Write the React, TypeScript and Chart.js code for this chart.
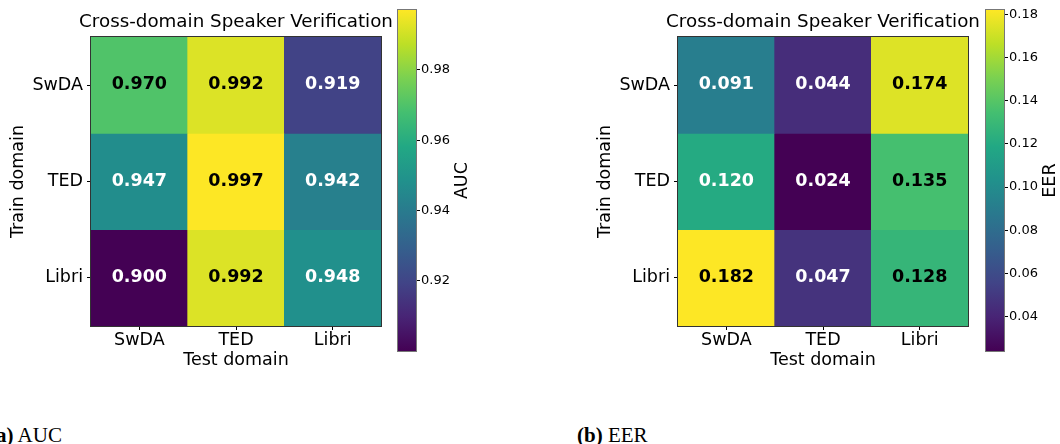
import React, { useEffect, useRef } from 'react';
import { Chart, registerables } from 'chart.js';

Chart.register(...registerables);

// ---------- data ----------
const testDomains = ['SwDA', 'TED', 'Libri'];
const trainDomains = ['SwDA', 'TED', 'Libri'];

const aucSwDA = [0.970, 0.992, 0.919];
const aucTED = [0.947, 0.997, 0.942];
const aucLibri = [0.900, 0.992, 0.948];

const eerSwDA = [0.091, 0.044, 0.174];
const eerTED = [0.120, 0.024, 0.135];
const eerLibri = [0.182, 0.047, 0.128];

const aucTicks = [0.92, 0.94, 0.96, 0.98];
const eerTicks = [0.04, 0.06, 0.08, 0.10, 0.12, 0.14, 0.16, 0.18];

const chartTitle = 'Cross-domain Speaker Verification';
const xTitle = 'Test domain';
const yTitle = 'Train domain';

// ---------- colormap ----------
const VIRIDIS = ['#440154', '#482475', '#414487', '#355f8d', '#2a788e', '#21918c', '#22a884', '#44bf70', '#7ad151', '#bddf26', '#fde725'];

function hexToRgb(h: string) {
  return [parseInt(h.slice(1, 3), 16), parseInt(h.slice(3, 5), 16), parseInt(h.slice(5, 7), 16)];
}

function viridis(t: number) {
  const c = Math.max(0, Math.min(1, t));
  const pos = c * (VIRIDIS.length - 1);
  const i = Math.min(Math.floor(pos), VIRIDIS.length - 2);
  const f = pos - i;
  const a = hexToRgb(VIRIDIS[i]);
  const b = hexToRgb(VIRIDIS[i + 1]);
  const r = a.map((v, k) => Math.round(v + (b[k] - v) * f));
  return `rgb(${r[0]},${r[1]},${r[2]})`;
}

const FONT = 'DejaVu Sans';
Chart.defaults.font.family = FONT;

// ---------- plugins ----------
const framePlugin = {
  id: 'frame',
  afterDraw(chart: any, _args: any, opts: any) {
    const { ctx, chartArea: a } = chart;
    ctx.save();
    ctx.strokeStyle = opts.color || '#333';
    ctx.lineWidth = 1;
    ctx.strokeRect(Math.round(a.left) - 0.5, Math.round(a.top) - 0.5, Math.round(a.right - a.left) + 1, Math.round(a.bottom - a.top) + 1);
    ctx.restore();
  },
};

// centred title over the plot area, drawn without width compression
const centerTitlePlugin = {
  id: 'centerTitle',
  afterDraw(chart: any, _args: any, opts: any) {
    const { ctx, chartArea: a } = chart;
    ctx.save();
    ctx.font = `${opts.size}px "${FONT}"`;
    ctx.fillStyle = '#000';
    ctx.textAlign = 'center';
    ctx.textBaseline = 'alphabetic';
    ctx.fillText(opts.text, (a.left + a.right) / 2, a.top - opts.gap);
    ctx.restore();
  },
};

const annotatePlugin = {
  id: 'annotate',
  afterDatasetsDraw(chart: any, _args: any, opts: any) {
    const { ctx } = chart;
    const rows: number[][] = opts.rows;
    ctx.save();
    ctx.font = `bold 17.5px "${FONT}"`;
    ctx.textAlign = 'center';
    ctx.textBaseline = 'middle';
    chart.data.datasets.forEach((_ds: any, d: number) => {
      const meta = chart.getDatasetMeta(d);
      meta.data.forEach((bar: any, j: number) => {
        const v = rows[d][j];
        const p = bar.getProps(['x', 'y', 'base'], true);
        ctx.fillStyle = v > opts.threshold ? '#000' : '#fff';
        ctx.fillText(v.toFixed(3), p.x, (p.y + p.base) / 2 - 0.5);
      });
    });
    ctx.restore();
  },
};

const cbLabelPlugin = {
  id: 'cbLabel',
  afterDraw(chart: any, _args: any, opts: any) {
    const { ctx, chartArea: a } = chart;
    ctx.save();
    ctx.font = `17.5px "${FONT}"`;
    ctx.fillStyle = '#000';
    ctx.textAlign = 'center';
    ctx.textBaseline = 'middle';
    ctx.translate(a.right + opts.offset, (a.top + a.bottom) / 2);
    ctx.rotate(-Math.PI / 2);
    ctx.fillText(opts.text, 0, 0);
    ctx.restore();
  },
};

// ---------- components ----------
type HeatProps = { rows: number[][]; vmin: number; vmax: number; threshold: number; left: number };

function Heatmap({ rows, vmin, vmax, threshold, left }: HeatProps) {
  const ref = useRef<HTMLCanvasElement>(null);
  useEffect(() => {
    const chart = new Chart(ref.current as HTMLCanvasElement, {
      type: 'bar',
      data: {
        labels: testDomains,
        datasets: rows.map((row, i) => ({
          label: trainDomains[i],
          data: row.map(() => [i, i + 1]),
          backgroundColor: row.map((v) => viridis((v - vmin) / (vmax - vmin))),
          borderWidth: 0,
          barPercentage: 1,
          categoryPercentage: 1,
          grouped: false,
        })),
      } as any,
      options: {
        animation: false,
        responsive: false,
        devicePixelRatio: 1,
        layout: { padding: { top: 37, right: 24, bottom: 0, left: 0 } },
        events: [],
        plugins: {
          legend: { display: false },
          tooltip: { enabled: false },
          title: { display: false },
          centerTitle: { text: chartTitle, size: 18.3, gap: 10.3 },
          annotate: { rows, threshold },
          frame: { color: '#333' },
        } as any,
        scales: {
          x: {
            type: 'category',
            offset: true,
            grid: { offset: false, drawOnChartArea: false, drawTicks: true, tickLength: 4, color: '#000' },
            border: { display: false },
            ticks: { color: '#000', font: { family: FONT, size: 17.5 }, padding: 0, maxRotation: 0 },
            title: { display: true, text: xTitle, color: '#000', font: { family: FONT, size: 17.5 }, padding: { top: 0, bottom: 8.9 } },
            afterFit: (s: any) => { s.height = 54; },
          },
          y: {
            type: 'linear',
            reverse: true,
            min: 0,
            max: 3,
            afterBuildTicks: (s: any) => { s.ticks = trainDomains.map((_, i) => ({ value: i + 0.5 })); },
            grid: { drawOnChartArea: false, drawTicks: true, tickLength: 4, color: '#000' },
            border: { display: false },
            ticks: {
              color: '#000',
              font: { family: FONT, size: 17.5 },
              padding: 4,
              callback: (v: any) => trainDomains[Math.floor(Number(v))],
            },
            title: { display: true, text: yTitle, color: '#000', font: { family: FONT, size: 17.5 }, padding: { top: 8.2, bottom: 0 } },
            afterFit: (s: any) => { s.width = 91; },
          },
        } as any,
      },
      plugins: [annotatePlugin, framePlugin, centerTitlePlugin],
    });
    return () => chart.destroy();
  }, [rows, vmin, vmax, threshold]);
  return (
    <canvas
      ref={ref}
      width={405}
      height={380}
      style={{ position: 'absolute', left, top: 0, width: 405, height: 380, display: 'block' }}
    />
  );
}

type CbProps = { vmin: number; vmax: number; ticks: number[]; label: string; left: number };

function Colorbar({ vmin, vmax, ticks, label, left }: CbProps) {
  const ref = useRef<HTMLCanvasElement>(null);
  useEffect(() => {
    const chart = new Chart(ref.current as HTMLCanvasElement, {
      type: 'bar',
      data: {
        labels: [label],
        datasets: [
          {
            data: [[vmin, vmax]],
            backgroundColor: (c: any) => {
              const ch = c.chart;
              if (!ch.chartArea || !ch.scales.y) return VIRIDIS[5];
              const ys = ch.scales.y;
              const g = ch.ctx.createLinearGradient(0, ys.getPixelForValue(vmin), 0, ys.getPixelForValue(vmax));
              VIRIDIS.forEach((col, k) => g.addColorStop(k / (VIRIDIS.length - 1), col));
              return g;
            },
            borderWidth: 0,
            barPercentage: 1,
            categoryPercentage: 1,
          },
        ],
      } as any,
      options: {
        animation: false,
        responsive: false,
        devicePixelRatio: 1,
        events: [],
        layout: { padding: { top: 10, right: 0, bottom: 6, left: 8 } },
        plugins: {
          legend: { display: false },
          tooltip: { enabled: false },
          cbLabel: { text: label, offset: 46 },
          frame: { color: '#777' },
        } as any,
        scales: {
          x: { type: 'category', display: false, offset: true },
          y: {
            type: 'linear',
            position: 'right',
            min: vmin,
            max: vmax,
            afterBuildTicks: (s: any) => { s.ticks = ticks.map((v) => ({ value: v })); },
            grid: { drawOnChartArea: false, drawTicks: true, tickLength: 4, color: '#000' },
            border: { display: false },
            ticks: { color: '#000', font: { family: FONT, size: 13 }, padding: 1, callback: (v: any) => Number(v).toFixed(2) },
            afterFit: (s: any) => { s.width = 59; },
          },
        } as any,
      },
      plugins: [framePlugin, cbLabelPlugin],
    });
    return () => chart.destroy();
  }, [vmin, vmax, ticks, label]);
  return (
    <canvas
      ref={ref}
      width={85}
      height={360}
      style={{ position: 'absolute', left, top: 0, width: 85, height: 360, display: 'block' }}
    />
  );
}

const aucRows = [aucSwDA, aucTED, aucLibri];
const eerRows = [eerSwDA, eerTED, eerLibri];
const aucMin = Math.min(...aucRows.flat());
const aucMax = Math.max(...aucRows.flat());
const eerMin = Math.min(...eerRows.flat());
const eerMax = Math.max(...eerRows.flat());

export default function App() {
  const capStyle: React.CSSProperties = {
    position: 'absolute',
    top: 424.7,
    fontFamily: '"Liberation Serif", "Times New Roman", serif',
    fontSize: 21,
    lineHeight: '21px',
    color: '#000',
    whiteSpace: 'nowrap',
  };
  return (
    <div style={{ position: 'absolute', left: 0, top: 0, width: 1060, height: 444, overflow: 'hidden', background: '#fff' }}>
      <Heatmap rows={aucRows} vmin={aucMin} vmax={aucMax} threshold={0.95} left={0} />
      <Colorbar vmin={aucMin} vmax={aucMax} ticks={aucTicks} label="AUC" left={390} />
      <Heatmap rows={eerRows} vmin={eerMin} vmax={eerMax} threshold={0.125} left={587} />
      <Colorbar vmin={eerMin} vmax={eerMax} ticks={eerTicks} label="EER" left={978} />
      <div style={{ ...capStyle, left: -11 }}>
        <b>(a)</b> AUC
      </div>
      <div style={{ ...capStyle, left: 577 }}>
        <b>(b)</b> EER
      </div>
    </div>
  );
}
